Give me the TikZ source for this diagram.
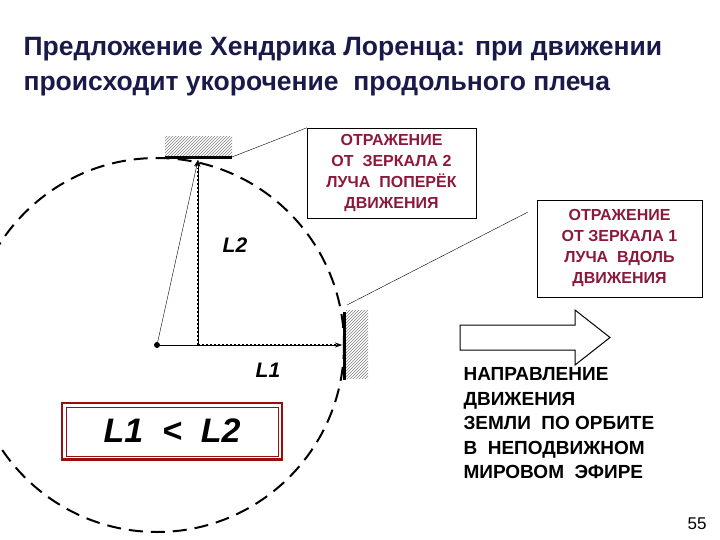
\documentclass[tikz,border=0pt]{standalone}
\usepackage{fontspec}
\setmainfont{Liberation Sans}
\usetikzlibrary{patterns,arrows.meta}
\definecolor{navy}{HTML}{1A1A4A}
\definecolor{dred}{HTML}{8B1A3A}
\definecolor{bred}{HTML}{9B0E10}
\tikzset{
 redtxt/.style={text=dred,font=\bfseries\fontsize{16}{21}\selectfont,align=center},
 blktxt/.style={text=black,font=\bfseries\fontsize{19}{24.5}\selectfont,align=left,anchor=north west},
 lbl/.style={font=\bfseries\itshape\fontsize{21}{24}\selectfont},
 ray/.style={-{Stealth[length=7pt,width=5pt]},thin},
 dotray/.style={dotted,line width=2pt},
 hatch/.style={pattern=north east lines,pattern color=gray},
}
\begin{document}
\begin{tikzpicture}[x=1pt,y=-1pt]
\useasboundingbox (0,0) rectangle (720,540);
\node[anchor=west,text=navy,font=\bfseries\fontsize{26.5}{35}\selectfont,align=left] (title) at (20,67) {Предложение Хендрика Лоренца: при движении\\происходит укорочение \ продольного плеча};
% circle
\begin{scope}
\clip (0,0) rectangle (720,540);
\draw[line width=2pt,dash pattern=on 14pt off 8pt] (157,345) circle (187);
\end{scope}
% mirrors
\fill[hatch,draw=none] (165,137) rectangle (232,157);
\draw[line width=3pt] (165,158) -- (232,158);
\fill[hatch,draw=none] (346,310) rectangle (368,378);
\draw[line width=3pt] (344,312) -- (344,380);
% rays
\coordinate (S) at (157,345);
\coordinate (M2) at (198,160);
\coordinate (F) at (198,345);
\coordinate (M1) at (342,345);
\fill (S) circle (3);
\draw[dotray] (F) -- (M1);
\draw[dotray] (F) -- (198,168);
\draw[ray] (F) -- (M2);
\draw[ray] (S) -- (M2);
\draw[ray] (S) -- (M1);
\node[lbl] (l2) at (235,245) {L2};
\node[lbl] (l1) at (268,370) {L1};
% boxes
\node[draw=black,thin,redtxt,minimum width=169,minimum height=90,inner sep=2pt] (b1) at (391.5,173) {ОТРАЖЕНИЕ\\ОТ \ ЗЕРКАЛА 2\\ЛУЧА \ ПОПЕРЁК\\ДВИЖЕНИЯ};
\node[draw=black,thin,redtxt,minimum width=165,minimum height=97,inner sep=2pt] (b2) at (619.5,248.5) {ОТРАЖЕНИЕ\\ОТ ЗЕРКАЛА 1\\ЛУЧА \ ВДОЛЬ\\ДВИЖЕНИЯ};
\draw[thin] (232,157) -- (b1.north west);
\coordinate (c2) at (528,212);
\draw[thin] (347,305) -- (c2);
% L1<L2 box
\draw[bred,line width=1.5pt] (62,403) rectangle (282,460);
\draw[bred,line width=1pt] (66,407) rectangle (278,456);
\draw[bred,line width=3pt] (62,459) -- (282,459);
\node[font=\bfseries\itshape\fontsize{34}{36}\selectfont] (ineq) at (172,431) {L1 \ < \ L2};
% block arrow
\draw[line width=1pt,line join=miter] (460,325) -- (575,325) -- (575,310) -- (610,337.5) -- (575,365) -- (575,350) -- (460,350) -- cycle;
\node[blktxt] (dir) at (460,364) {НАПРАВЛЕНИЕ\\ДВИЖЕНИЯ\\ЗЕМЛИ \ ПО ОРБИТЕ\\В \ НЕПОДВИЖНОМ\\МИРОВОМ \ ЭФИРЕ};
\node[font=\fontsize{17}{20}\selectfont] (pg) at (697,524) {55};
\end{tikzpicture}
\end{document}
